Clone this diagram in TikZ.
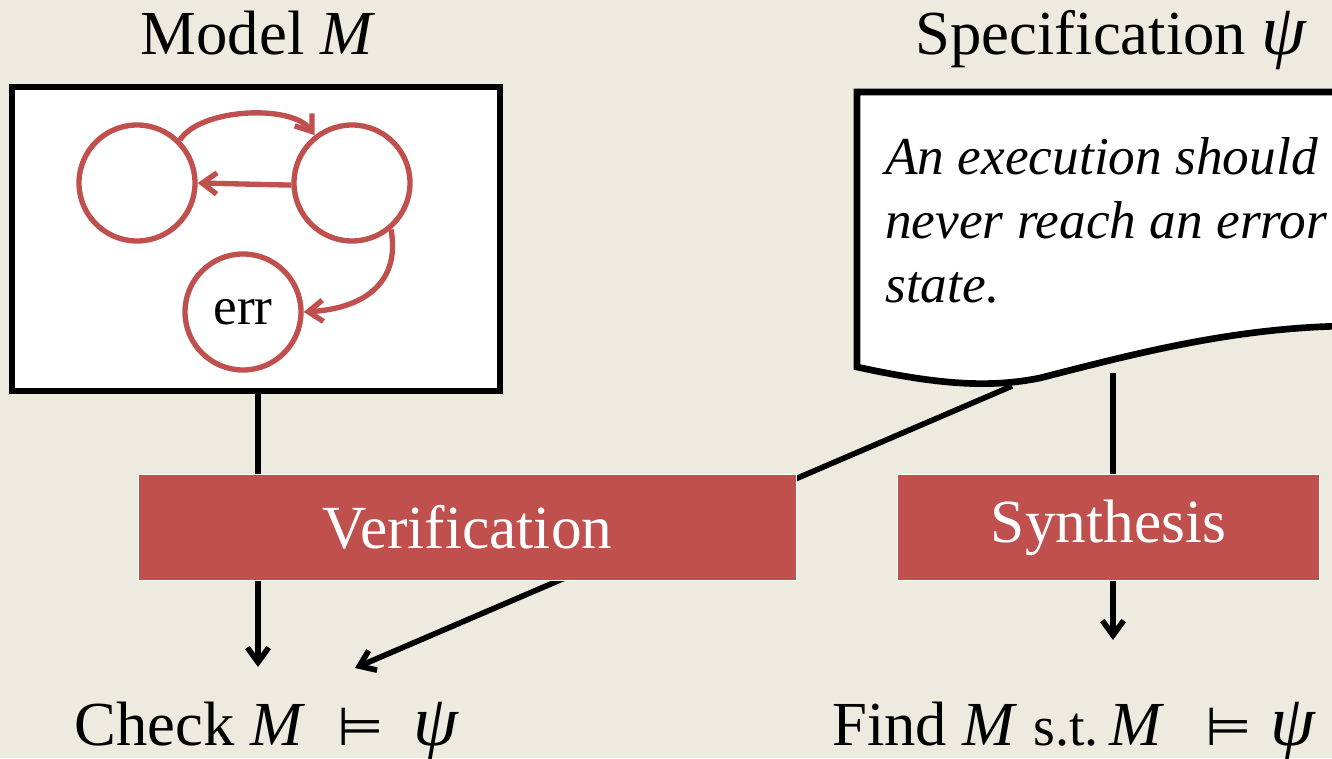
\documentclass[tikz,border=0pt]{standalone}
\usepackage{fontspec}
\setmainfont{Liberation Serif}
\newfontfamily\relfont{DejaVu Sans}
\usetikzlibrary{arrows.meta}
\definecolor{paper}{HTML}{EDEAE0}
\definecolor{brick}{HTML}{C0504D}
\newcommand{\psisym}{{\fontsize{54}{54}\selectfont\itshape ψ}}

\begin{document}
\begin{tikzpicture}[x=0.75pt,y=0.75pt,
  barb/.style={-{Straight Barb[length=11pt,width=16pt]}},
  link/.style={line width=4.2pt,black},
  state/.style={circle,draw=brick,line width=4pt,fill=white,minimum size=87pt,inner sep=0pt},
  trans/.style={draw=brick,line width=4pt,-{Straight Barb[length=11pt,width=16pt]}},
  task/.style={fill=brick,draw=white,line width=0.8pt,minimum height=79pt,text=white,
    font=\fontsize{46}{50}\selectfont,inner sep=0pt},
  title/.style={font=\fontsize{47}{52}\selectfont,inner sep=0pt},
  rel/.style={font=\fontsize{40}{40}\selectfont\relfont,inner sep=0pt,anchor=base},
  frame/.style={draw=black,line width=5pt,fill=white}]

\useasboundingbox (0,0) rectangle (1332,758);
\fill[paper] (0,0) rectangle (1332,758);

% anchor points of the connectors
\coordinate (docA) at (1012,372);
\coordinate (docB) at (1113,385);
\coordinate (chkA) at (258,91);
\coordinate (chkB) at (355,90);
\coordinate (synEnd) at (1113,118);

% task boxes (placed first so connectors can refer to them)
\node[task,minimum width=494pt] (verif) at (467.5,230.5) {};
\node[task,minimum width=317pt] (synth) at (1108.5,230.5) {};

% connectors running behind the boxes
\draw[link,barb] (docA) -- (chkB);
\draw[link] (docB) -- (docB |- synth.north);

% specification sheet with wavy lower edge
\draw[frame] (857,666) -- (1345,666) -- (1345,432)
  .. controls (1230,430) and (1130,403) .. (1040,380)
  .. controls (990,370) and (940,373) .. (857,391) -- cycle;
\node[anchor=north west,inner sep=0pt,align=left,
  font=\fontsize{40}{48}\selectfont\itshape] (spectext) at (885,621)
  {An execution should\\never reach an error\\state.};

% model box with its automaton
\node[frame,minimum width=366pt,minimum height=228pt,inner sep=0pt] (modelbox) at (256,519) {};
\node[state] (s1) at (137,575) {};
\node[state] (s2) at (352,575) {};
\node[state,font=\fontsize{40}{40}\selectfont] (err) at (243,446) {err};
\draw[trans] (s1.45) .. controls (200,650) and (292,654) .. (s2.128);
\draw[trans] (s2.182) -- (s1.east);
\draw[trans] (s2.-50) .. controls (400,480) and (370,450) .. (err.east);

% boxes redrawn on top with their labels
\node[task,minimum width=494pt] at (verif) {Verification};
\node[task,minimum width=317pt] at (synth) {Synthesis};

\draw[link] (modelbox.south -| chkA) -- (verif.north -| chkA);
\draw[link,barb] (verif.south -| chkA) -- (chkA);
\draw[link,barb] (synth.south -| docB) -- (synEnd);

% titles
\node[title,anchor=base] (mtitle) at (258,703) {Model \textit{M}};
\node[title,anchor=base] (stitle) at (1111,703) {Specification \psisym};

% results: verification
\node[title,anchor=base west] (check) at (74,13) {Check \textit{M}};
\node[rel] (checkrel) at (361,13) {⊨};
\node[title,anchor=base] (checkpsi) at (436,13) {\psisym};

% results: synthesis
\node[title,anchor=base west] (find) at (832,13)
  {Find \textit{M} {\fontsize{42}{42}\selectfont s.t.}\,\textit{M}};
\node[rel] (findrel) at (1229,13) {⊨};
\node[title,anchor=base] (findpsi) at (1293,13) {\psisym};
\end{tikzpicture}
\end{document}
